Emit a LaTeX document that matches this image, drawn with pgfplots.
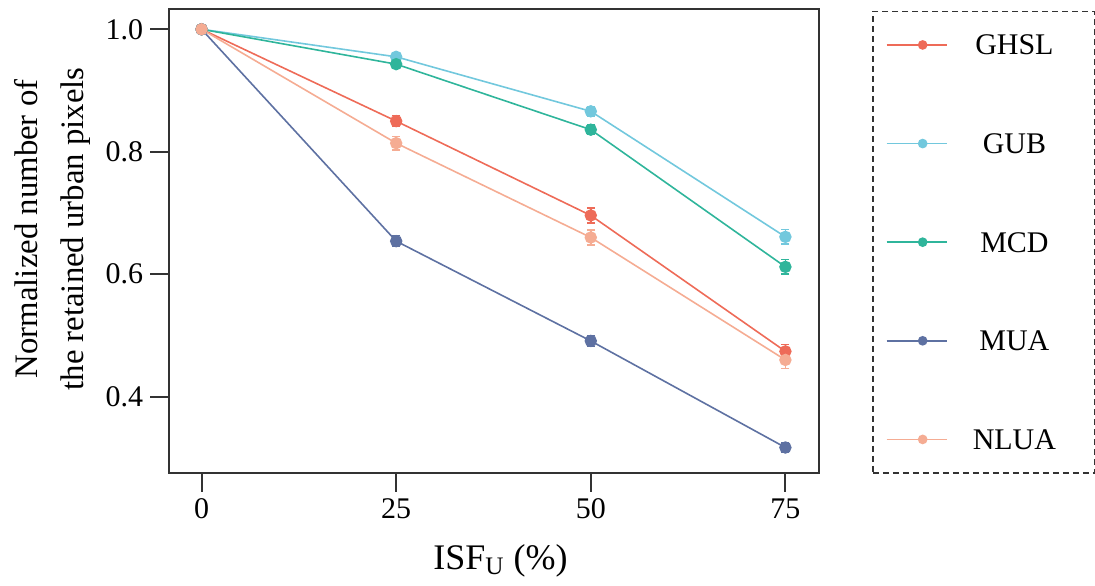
\documentclass[border=0pt]{standalone}
\usepackage{pgfplots}
\usepackage{pgfplotstable}
\pgfplotsset{compat=1.18}
\usepackage{fontspec}
\setmainfont{Liberation Serif}
\definecolor{cGHSL}{HTML}{EE6B58}
\definecolor{cGUB}{HTML}{72C8DD}
\definecolor{cMCD}{HTML}{2FB59B}
\definecolor{cMUA}{HTML}{5E71A2}
\definecolor{cNLUA}{HTML}{F5AC93}
\definecolor{axc}{HTML}{333333}

\pgfplotstableread{
x y e
0 1.000 0
25 0.850 0.009
50 0.696 0.012
75 0.474 0.011
}\tGHSL
\pgfplotstableread{
x y e
0 1.000 0
25 0.955 0.005
50 0.866 0.008
75 0.661 0.012
}\tGUB
\pgfplotstableread{
x y e
0 1.000 0
25 0.943 0.005
50 0.836 0.008
75 0.612 0.012
}\tMCD
\pgfplotstableread{
x y e
0 1.000 0
25 0.654 0.009
50 0.491 0.009
75 0.317 0.008
}\tMUA
\pgfplotstableread{
x y e
0 1.000 0
25 0.814 0.011
50 0.660 0.012
75 0.460 0.014
}\tNLUA

\begin{document}
\begin{tikzpicture}
\begin{axis}[
  scale only axis, width=325.35pt, height=232.15pt,
  xmin=-4.16, xmax=79.36, ymin=0.2755, ymax=1.0331,
  xtick={0,25,50,75}, ytick={0.4,0.6,0.8,1.0},
  yticklabel style={/pgf/number format/.cd, fixed, fixed zerofill, precision=1},
  /pgf/number format/assume math mode=true,
  tick label style={font=\fontsize{15}{18}\selectfont, text=black},
  tick align=outside, xtick pos=bottom, ytick pos=left,
  major tick length=9.5pt,
  tick style={axc, line width=1pt},
  axis line style={axc, line width=1pt},
  clip=false,
  xlabel={ISF\textsubscript{U} (\%)},
  xlabel style={font=\fontsize{18}{21}\selectfont, at={(axis description cs:0.5095,-0.2083)}, anchor=base},
  ylabel={Normalized number of\\the retained urban pixels},
  ylabel style={align=center, font=\fontsize{16.4}{23.3}\selectfont, inner sep=0pt, at={(axis description cs:-0.1795,0.526)}, anchor=center},
  legend style={at={(axis description cs:1.0814,0.9963)}, anchor=north west, draw=axc, dash pattern=on 3pt off 2pt, line width=0.65pt, inner xsep=6.5pt, inner ysep=9.8pt, row sep=35.35pt, column sep=0pt, font=\fontsize{15}{18}\selectfont, nodes={text width=67pt, align=center, text height=12pt, text depth=2pt, inner sep=0pt}},
  legend cell align=center,
  legend image code/.code={
    \path (-8pt,0pt) -- (22pt,0pt);
    \draw[mark repeat=2,mark phase=2,#1,solid,line width=0.8pt,mark size=2pt] plot coordinates {(0pt,0pt)(10pt,0pt)(20pt,0pt)};
  },
  sty/.style={#1, solid, line width=0.8pt, mark=*, mark size=2.7pt, mark options={solid, fill=#1, draw=#1},
    error bars/.cd, y dir=both, y explicit,
    error bar style={line width=0.8pt, solid},
    error mark options={rotate=90, mark size=2pt, line width=0.8pt, solid}},
]
\addplot[sty=cGHSL] table[x=x, y=y, y error=e] {\tGHSL};
\addlegendentry{GHSL}
\addplot[sty=cGUB] table[x=x, y=y, y error=e] {\tGUB};
\addlegendentry{GUB}
\addplot[sty=cMCD] table[x=x, y=y, y error=e] {\tMCD};
\addlegendentry{MCD}
\addplot[sty=cMUA] table[x=x, y=y, y error=e] {\tMUA};
\addlegendentry{MUA}
\addplot[sty=cNLUA] table[x=x, y=y, y error=e] {\tNLUA};
\addlegendentry{NLUA}
\path (rel axis cs:-0.2602,-0.2427) rectangle (rel axis cs:1.4226,1.0194);
\end{axis}
\end{tikzpicture}
\end{document}
